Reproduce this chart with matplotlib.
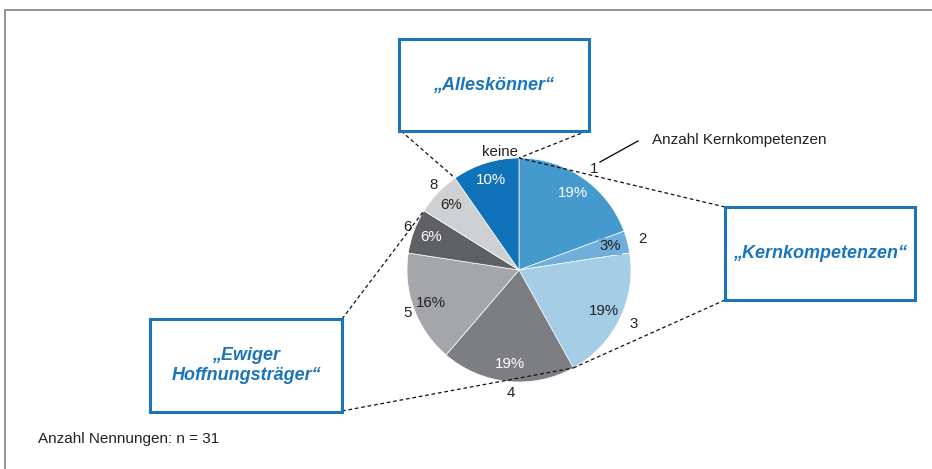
import numpy as np
import matplotlib
matplotlib.use("Agg")
import matplotlib.pyplot as plt
from matplotlib.patches import Rectangle

plt.rcParams['font.family'] = ['Liberation Sans', 'DejaVu Sans']

# data: number of mentions per count of core competences (n = 31)
labels = ["1", "2", "3", "4", "5", "6", "8", "keine"]
counts = [6, 1, 6, 6, 5, 2, 2, 3]
colors = ["#4499cd", "#70afdb", "#a5cde6", "#7d7e82", "#a5a6aa", "#5f6063", "#cfd0d2", "#1072b9"]
pct_colors = ["white", "#222222", "#222222", "white", "#222222", "white", "#222222", "white"]
groups = ["„Alleskönner“", "„Kernkompetenzen“", "„Ewiger\nHoffnungsträger“"]
note = "Anzahl Nennungen: n = 31"
axis_title = "Anzahl Kernkompetenzen"

W, H = 932, 469
BLUE = "#1a75bc"

def P(x, y):
    # pixel coords (top-left origin) -> data coords
    return (x, H - y)

fig = plt.figure(figsize=(W/100, H/100), dpi=100)
ax = fig.add_axes([0, 0, 1, 1])

wedges, texts, autotexts = ax.pie(counts, labels=labels, colors=colors, startangle=90, counterclock=False,
                                  center=P(519, 270), radius=112, autopct="%1.0f%%", pctdistance=0.84,
                                  labeldistance=1.1, frame=True,
                                  wedgeprops=dict(edgecolor="white", linewidth=0.5),
                                  textprops=dict(fontsize=10.8, color="#222222"))
for t, c in zip(autotexts, pct_colors):
    t.set_color(c)
autotexts[1].set_bbox(dict(facecolor=colors[1], edgecolor="none", pad=1))

def edge_pt(w, theta):
    cx, cy = w.center
    return (cx + w.r*np.cos(np.radians(theta)), cy + w.r*np.sin(np.radians(theta)))

# boxes (left, top, right, bottom) in pixels
boxes = [(399, 39, 589, 131), (725, 207, 915, 300), (150, 319, 342, 412)]
for (l, t, r, b), txt in zip(boxes, groups):
    x0, y0 = P(l, b)
    ax.add_patch(Rectangle((x0, y0), r-l, b-t, fill=False, edgecolor=BLUE, lw=2.2, zorder=5))
    cx, cy = P((l+r)/2, (t+b)/2)
    ax.text(cx, cy, txt, ha="center", va="center", fontsize=13, fontweight="bold", fontstyle="italic",
            color=BLUE, linespacing=1.3, zorder=6)

top_pt = edge_pt(wedges[0], wedges[0].theta2)
links = [
    (P(401, 131), edge_pt(wedges[7], wedges[7].theta2)),
    (P(587, 131), edge_pt(wedges[7], wedges[7].theta1)),
    (P(725, 207), top_pt),
    (P(725, 300), edge_pt(wedges[2], wedges[2].theta1)),
    (P(342, 319), edge_pt(wedges[5], wedges[5].theta1)),
    (P(342, 411), edge_pt(wedges[3], wedges[3].theta2)),
]
for a, b in links:
    ax.plot([a[0], b[0]], [a[1], b[1]], color="#111111", lw=0.9, ls=(0, (3, 2.2)), zorder=1)

# axis title with pointer
ax.plot(*zip(P(600, 162), P(638, 141)), color="#111111", lw=1)
ax.text(*P(652, 140), axis_title, ha="left", va="center", fontsize=11, color="#222222")
ax.text(*P(38, 439), note, ha="left", va="center", fontsize=11, color="#222222")

# outer frame (left and top only)
ax.plot(*zip(P(4.5, 469), P(4.5, 9.5), P(932, 9.5)), color="#8a8a8a", lw=1.3, solid_joinstyle="miter")

ax.set_xlim(0, W)
ax.set_ylim(0, H)
ax.set_aspect("equal")
ax.axis("off")
fig.savefig("out.png", dpi=100)
